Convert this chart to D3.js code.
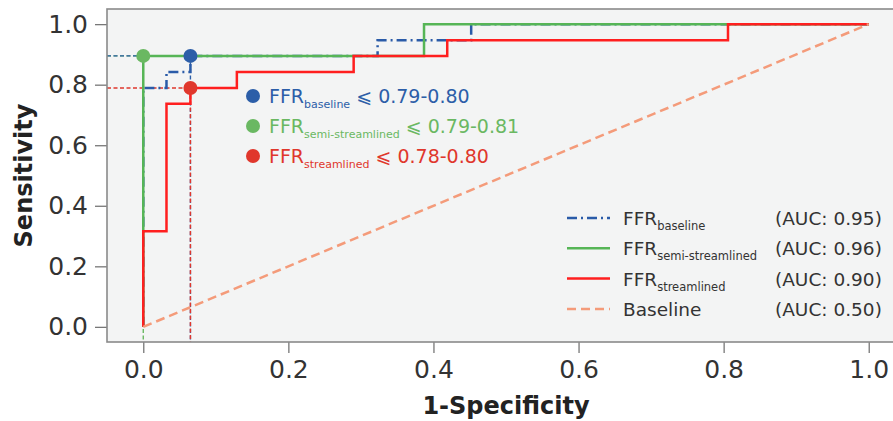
<!DOCTYPE html>
<html>
<head>
<meta charset="utf-8">
<script src="https://cdn.jsdelivr.net/npm/d3@7"></script>
<style>
  body { margin: 0; background: #fff; }
  text { font-family: "DejaVu Sans", sans-serif; }
</style>
</head>
<body>
<div id="roc"></div>
<script>
// ROC step curves (1-specificity, sensitivity)
var baselineFpr = [0, 0, 0.032, 0.032, 0.065, 0.065, 0.323, 0.323, 0.452, 0.452, 1];
var baselineTpr = [0, 0.789, 0.789, 0.842, 0.842, 0.895, 0.895, 0.947, 0.947, 1, 1];

var semiFpr = [0, 0, 0.387, 0.387, 1];
var semiTpr = [0, 0.895, 0.895, 1, 1];

var streamFpr = [0, 0, 0.032, 0.032, 0.065, 0.065, 0.129, 0.129, 0.290, 0.290, 0.419, 0.419, 0.806, 0.806, 1];
var streamTpr = [0, 0.316, 0.316, 0.737, 0.737, 0.789, 0.789, 0.842, 0.842, 0.895, 0.895, 0.947, 0.947, 1, 1];

var chanceFpr = [0, 1];
var chanceTpr = [0, 1];

var seriesNames = ["baseline", "semi-streamlined", "streamlined"];
var aucLabels = ["(AUC: 0.95)", "(AUC: 0.96)", "(AUC: 0.90)", "(AUC: 0.50)"];
var cutoffLabels = ["0.79-0.80", "0.79-0.81", "0.78-0.80"];
var cutoffFpr = [0.065, 0, 0.065];
var cutoffTpr = [0.895, 0.895, 0.789];

var xTicks = [0, 0.2, 0.4, 0.6, 0.8, 1.0];
var yTicks = [0, 0.2, 0.4, 0.6, 0.8, 1.0];

var width = 893, height = 421;
var plotLeft = 107, plotRight = 905, plotTop = 9, plotBottom = 342;

var lineColors = ["#2a5ba8", "#56b556", "#ff1f1f"];
var dotColors = ["#2c5ea8", "#6ab862", "#e0372c"];
var chanceColor = "#f49b7a";

const svg = d3.select("#roc")
    .append("svg")
        .attr("width", width)
        .attr("height", height);

const x = d3.scaleLinear().domain([-0.05, 1.05]).range([plotLeft, plotRight]);
const y = d3.scaleLinear().domain([-0.05, 1.05]).range([plotBottom, plotTop]);

svg.append("defs").append("clipPath")
    .attr("id", "plot-clip")
  .append("rect")
    .attr("x", plotLeft).attr("y", plotTop)
    .attr("width", plotRight - plotLeft).attr("height", plotBottom - plotTop);

// axes background
svg.append("rect")
    .attr("x", plotLeft).attr("y", plotTop)
    .attr("width", plotRight - plotLeft).attr("height", plotBottom - plotTop)
    .attr("fill", "#f3f4f4");

// X axis
const xAxis = svg.append("g")
    .attr("transform", `translate(0, ${plotBottom})`)
    .call(d3.axisBottom(x).tickValues(xTicks).tickFormat(d3.format(".1f")).tickSize(11).tickPadding(7));
xAxis.select(".domain").remove();
xAxis.selectAll("line").attr("stroke", "#777").attr("stroke-width", 1.3);
xAxis.selectAll("text").attr("font-size", 25).attr("fill", "#333");

// Y axis
const yAxis = svg.append("g")
    .attr("transform", `translate(${plotLeft}, 0)`)
    .call(d3.axisLeft(y).tickValues(yTicks).tickFormat(d3.format(".1f")).tickSize(12).tickPadding(7));
yAxis.select(".domain").remove();
yAxis.selectAll("line").attr("stroke", "#777").attr("stroke-width", 1.3);
yAxis.selectAll("text").attr("font-size", 25).attr("fill", "#333");

// axis titles
svg.append("text")
    .attr("x", (plotLeft + plotRight) / 2)
    .attr("y", 414)
    .attr("text-anchor", "middle")
    .attr("font-size", 24)
    .attr("font-weight", "bold")
    .attr("fill", "#222")
    .text("1-Specificity");

svg.append("text")
    .attr("transform", `translate(32, ${(plotTop + plotBottom) / 2}) rotate(-90)`)
    .attr("text-anchor", "middle")
    .attr("font-size", 24)
    .attr("font-weight", "bold")
    .attr("fill", "#222")
    .text("Sensitivity");

const plot = svg.append("g").attr("clip-path", "url(#plot-clip)");

function toPoints(fpr, tpr) {
    return fpr.map(function(v, i) { return [v, tpr[i]]; });
}

const line = d3.line()
    .x(function(d) { return x(d[0]); })
    .y(function(d) { return y(d[1]); });

// cut-off guide lines (green first so blue and red sit on top)
[1, 0, 2].forEach(function(i) {
    plot.append("line")
        .attr("x1", x(-0.05)).attr("x2", x(cutoffFpr[i]))
        .attr("y1", y(cutoffTpr[i])).attr("y2", y(cutoffTpr[i]))
        .attr("stroke", dotColors[i]).attr("stroke-width", 1.4)
        .attr("stroke-dasharray", "4,2.5");
    plot.append("line")
        .attr("x1", x(cutoffFpr[i])).attr("x2", x(cutoffFpr[i]))
        .attr("y1", y(cutoffTpr[i])).attr("y2", y(-0.05))
        .attr("stroke", dotColors[i]).attr("stroke-width", 1.4)
        .attr("stroke-dasharray", "4,2.5");
});

// curves
plot.append("path")
    .attr("d", line(toPoints(baselineFpr, baselineTpr)))
    .attr("fill", "none")
    .attr("stroke", lineColors[0])
    .attr("stroke-width", 2.5)
    .attr("stroke-dasharray", "10,4,2,4");

plot.append("path")
    .attr("d", line(toPoints(semiFpr, semiTpr)))
    .attr("fill", "none")
    .attr("stroke", lineColors[1])
    .attr("stroke-width", 2.5);

plot.append("path")
    .attr("d", line(toPoints(streamFpr, streamTpr)))
    .attr("fill", "none")
    .attr("stroke", lineColors[2])
    .attr("stroke-width", 2.5);

plot.append("path")
    .attr("d", line(toPoints(chanceFpr, chanceTpr)))
    .attr("fill", "none")
    .attr("stroke", chanceColor)
    .attr("stroke-width", 2.5)
    .attr("stroke-dasharray", "9,5");

// cut-off dots
plot.selectAll("circle.cut")
    .data(cutoffFpr)
    .enter()
    .append("circle")
        .attr("class", "cut")
        .attr("cx", function(d) { return x(d); })
        .attr("cy", function(d, i) { return y(cutoffTpr[i]); })
        .attr("r", 7)
        .attr("fill", function(d, i) { return dotColors[i]; });

// frame
svg.append("rect")
    .attr("x", plotLeft).attr("y", plotTop)
    .attr("width", plotRight - plotLeft).attr("height", plotBottom - plotTop)
    .attr("fill", "none")
    .attr("stroke", "#8a8a8a")
    .attr("stroke-width", 1.6);

// cut-off annotation
for (var i = 0; i < 3; i++) {
    var cy = 96 + i * 30;
    svg.append("circle")
        .attr("cx", 253).attr("cy", cy).attr("r", 7)
        .attr("fill", dotColors[i]);
    var t = svg.append("text")
        .attr("x", 269).attr("y", cy + 7)
        .attr("font-size", 19)
        .attr("fill", dotColors[i]);
    t.append("tspan").text("FFR");
    t.append("tspan").attr("font-size", 11).attr("dy", 5).text(seriesNames[i]);
    t.append("tspan").attr("dy", -5).text(" \u2A7D " + cutoffLabels[i]);
}

// legend
var legendColors = [lineColors[0], lineColors[1], lineColors[2], chanceColor];
var legendDash = ["10,4,2,4", null, null, "9,5"];
for (var i = 0; i < 4; i++) {
    var ly = 218 + i * 30.3;
    svg.append("line")
        .attr("x1", 567).attr("x2", 610)
        .attr("y1", ly).attr("y2", ly)
        .attr("stroke", legendColors[i])
        .attr("stroke-width", 2.5)
        .attr("stroke-dasharray", legendDash[i]);
    var lt = svg.append("text")
        .attr("x", 623).attr("y", ly + 7)
        .attr("font-size", 18.5)
        .attr("fill", "#333");
    if (i < 3) {
        lt.append("tspan").text("FFR");
        lt.append("tspan").attr("font-size", 11.5).attr("dy", 5).text(seriesNames[i]);
    } else {
        lt.text("Baseline");
    }
    svg.append("text")
        .attr("x", 775).attr("y", ly + 7)
        .attr("font-size", 18.5)
        .attr("fill", "#333")
        .text(aucLabels[i]);
}
</script>
</body>
</html>
